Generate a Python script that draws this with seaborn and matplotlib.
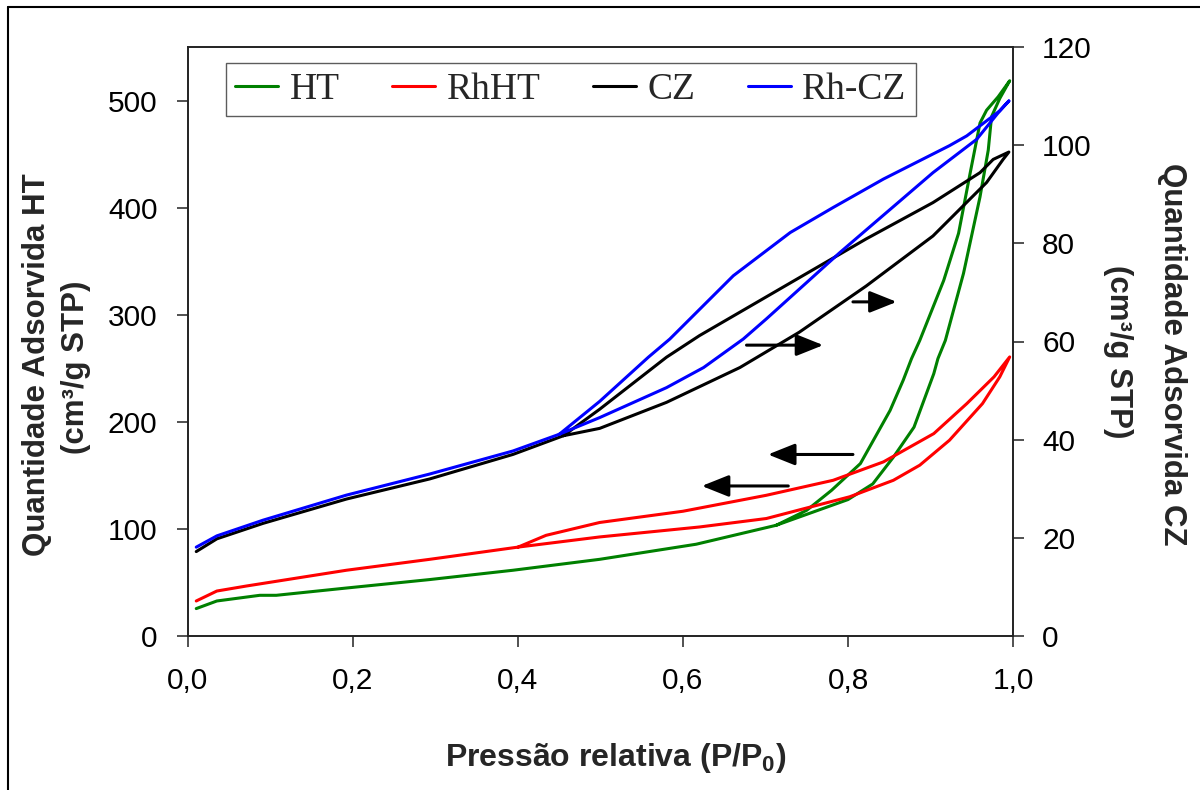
import numpy as np
import pandas as pd
import matplotlib
matplotlib.use("Agg")
import matplotlib.pyplot as plt
from matplotlib.lines import Line2D
import seaborn as sns

# ---------------- data ----------------
# HT (left axis) - adsorption then desorption branch
ht_x = [0.010, 0.035, 0.087, 0.107, 0.192, 0.293, 0.394, 0.499, 0.616, 0.713, 0.800, 0.830,
        0.855, 0.880, 0.904, 0.909, 0.918, 0.940, 0.960, 0.970, 0.974, 0.984, 0.996,
        0.982, 0.968, 0.960, 0.948, 0.934, 0.916, 0.887, 0.877, 0.867, 0.851, 0.815,
        0.780, 0.750, 0.713]
ht_y = [25.6, 32.7, 38.0, 38.0, 44.8, 52.7, 61.4, 71.6, 85.7, 103.4, 127.4, 142.0,
        167.0, 195.0, 245.0, 259.0, 276.0, 338.6, 410.0, 453.7, 485.0, 502.0, 518.5,
        503.5, 491.0, 479.0, 432.0, 376.0, 332.0, 276.0, 259.0, 239.0, 210.6, 161.0,
        136.0, 117.4, 103.4]

# RhHT (left axis)
rhht_x = [0.010, 0.035, 0.071, 0.192, 0.293, 0.400, 0.499, 0.620, 0.701, 0.802, 0.855,
          0.887, 0.923, 0.963, 0.984, 0.996,
          0.977, 0.944, 0.904, 0.843, 0.782, 0.701, 0.600, 0.499, 0.434, 0.400]
rhht_y = [32.7, 42.0, 46.7, 61.4, 71.6, 83.0, 92.5, 101.8, 109.7, 130.0, 145.4,
          159.5, 182.8, 217.0, 242.0, 260.6,
          242.0, 217.0, 189.0, 162.6, 145.4, 131.4, 116.5, 106.0, 94.0, 83.0]

# CZ (right axis)
cz_x = [0.010, 0.035, 0.091, 0.192, 0.293, 0.394, 0.455, 0.499, 0.580, 0.669,
        0.741, 0.822, 0.903, 0.968, 0.988, 0.995,
        0.976, 0.960, 0.903, 0.822, 0.741, 0.620, 0.580, 0.499, 0.455]
cz_y = [17.2, 19.8, 22.95, 27.9, 32.0, 37.0, 40.8, 42.3, 47.6, 54.7,
        61.9, 71.3, 81.5, 92.4, 97.1, 98.6,
        97.1, 94.4, 88.3, 80.9, 73.0, 61.2, 56.8, 46.2, 40.8]

# Rh-CZ (right axis)
rhcz_x = [0.010, 0.035, 0.091, 0.192, 0.293, 0.394, 0.450, 0.499, 0.580, 0.625, 0.673,
          0.701, 0.790, 0.903, 0.956, 0.984, 0.995,
          0.984, 0.944, 0.923, 0.843, 0.782, 0.730, 0.661, 0.584, 0.558, 0.499, 0.450]
rhcz_y = [18.1, 20.4, 23.6, 28.7, 33.0, 37.7, 41.1, 44.5, 50.6, 54.7, 60.5,
          64.6, 78.1, 94.4, 101.2, 107.0, 109.0,
          107.0, 101.9, 99.9, 93.1, 87.3, 82.2, 73.4, 60.5, 56.8, 47.8, 41.1]

series_names = ["HT", "RhHT", "CZ", "Rh-CZ"]
series_colors = ["#008000", "#FF0000", "#000000", "#0000FF"]

x_ticks = [0.0, 0.2, 0.4, 0.6, 0.8, 1.0]
x_tick_labels = ["0,0", "0,2", "0,4", "0,6", "0,8", "1,0"]
yl_ticks = [0, 100, 200, 300, 400, 500]
yr_ticks = [0, 20, 40, 60, 80, 100, 120]

# arrows (start x, end x, y on left axis)
arrows = [(0.806, 0.859, 312.0), (0.677, 0.770, 271.6),
          (0.806, 0.703, 169.5), (0.7276, 0.6228, 140.1)]

# ---------------- style ----------------
sns.set_style("ticks")
plt.rcParams["font.family"] = ["Liberation Sans", "DejaVu Sans"]
plt.rcParams["mathtext.fontset"] = "custom"
plt.rcParams["mathtext.bf"] = "Liberation Sans:bold"
plt.rcParams["mathtext.rm"] = "Liberation Sans"
plt.rcParams["mathtext.default"] = "bf"

W, H = 1200, 790
fig = plt.figure(figsize=(12, 7.9), dpi=100)
ax = fig.add_axes([188 / W, 1 - 636 / H, (1013 - 188) / W, (636 - 47) / H])
ax2 = ax.twinx()

lw = 2.2
data = [(ht_x, ht_y, ax), (rhht_x, rhht_y, ax), (cz_x, cz_y, ax2), (rhcz_x, rhcz_y, ax2)]
handles = []
for (xs, ys, a), name, col in zip(data, series_names, series_colors):
    d = pd.DataFrame({"x": xs, "y": ys})
    sns.lineplot(data=d, x="x", y="y", sort=False, estimator=None, ax=a,
                 color=col, linewidth=lw, legend=False)
    handles.append(Line2D([], [], color=col, linewidth=lw))

ax.set_xlim(0, 1.0)
ax.set_ylim(0, 550)
ax2.set_ylim(0, 120)
ax.set_xticks(x_ticks)
ax.set_xticklabels(x_tick_labels)
ax.set_yticks(yl_ticks)
ax2.set_yticks(yr_ticks)
for a in (ax, ax2):
    a.set_xlabel("")
    a.set_ylabel("")
    for s in a.spines.values():
        s.set_visible(True)
        s.set_color("#222222")
        s.set_linewidth(1.2)
ax.tick_params(axis="x", direction="out", length=8, width=1.1, pad=14, labelsize=21.5, colors="#222222", labelcolor="black")
ax.tick_params(axis="y", direction="out", length=8, width=1.1, pad=14, labelsize=21.5, colors="#222222", labelcolor="black")
ax2.tick_params(axis="y", direction="out", length=8, width=1.1, pad=13, labelsize=21.5, colors="#222222", labelcolor="black")

for x0, x1, y in arrows:
    ax.annotate("", xy=(x1, y), xytext=(x0, y),
                arrowprops=dict(arrowstyle="-|>,head_length=0.55,head_width=0.22",
                                color="black", lw=2.2,
                                mutation_scale=30, shrinkA=0, shrinkB=0))

leg = ax2.legend(handles, series_names, loc="upper left", bbox_to_anchor=(0.046, 0.973),
                 ncol=4, frameon=True, fancybox=False, edgecolor="#333333",
                 prop={"family": "Liberation Serif", "size": 27},
                 handlelength=1.15, handletextpad=0.3, columnspacing=1.4,
                 borderpad=0.25, borderaxespad=0)
leg.get_frame().set_linewidth(1.0)

# axis titles
fig.text(616 / W, 1 - 758 / H, r"Pressão relativa (P/P$_0$)", ha="center", va="center",
         fontsize=23, fontweight="bold")
fig.text(37 / W, 1 - 365 / H, "Quantidade Adsorvida HT", rotation=90, ha="center",
         va="center", fontsize=22.5, fontweight="bold")
fig.text(76 / W, 1 - 367 / H, "(cm³/g STP)", rotation=90, ha="center",
         va="center", fontsize=22.5, fontweight="bold")
fig.text(1172 / W, 1 - 354 / H, "Quantidade Adsorvida CZ", rotation=270, ha="center",
         va="center", fontsize=22.5, fontweight="bold")
fig.text(1118 / W, 1 - 352 / H, "(cm³/g STP)", rotation=270, ha="center",
         va="center", fontsize=22.5, fontweight="bold")

# outer frame (left and top edges visible in reference)
fig.add_artist(Line2D([8 / W, 8 / W], [0, 1 - 7 / H], transform=fig.transFigure,
                      color="black", linewidth=1.5))
fig.add_artist(Line2D([8 / W, 1], [1 - 7 / H, 1 - 7 / H], transform=fig.transFigure,
                      color="black", linewidth=1.5))

fig.savefig("out.png", dpi=100)
